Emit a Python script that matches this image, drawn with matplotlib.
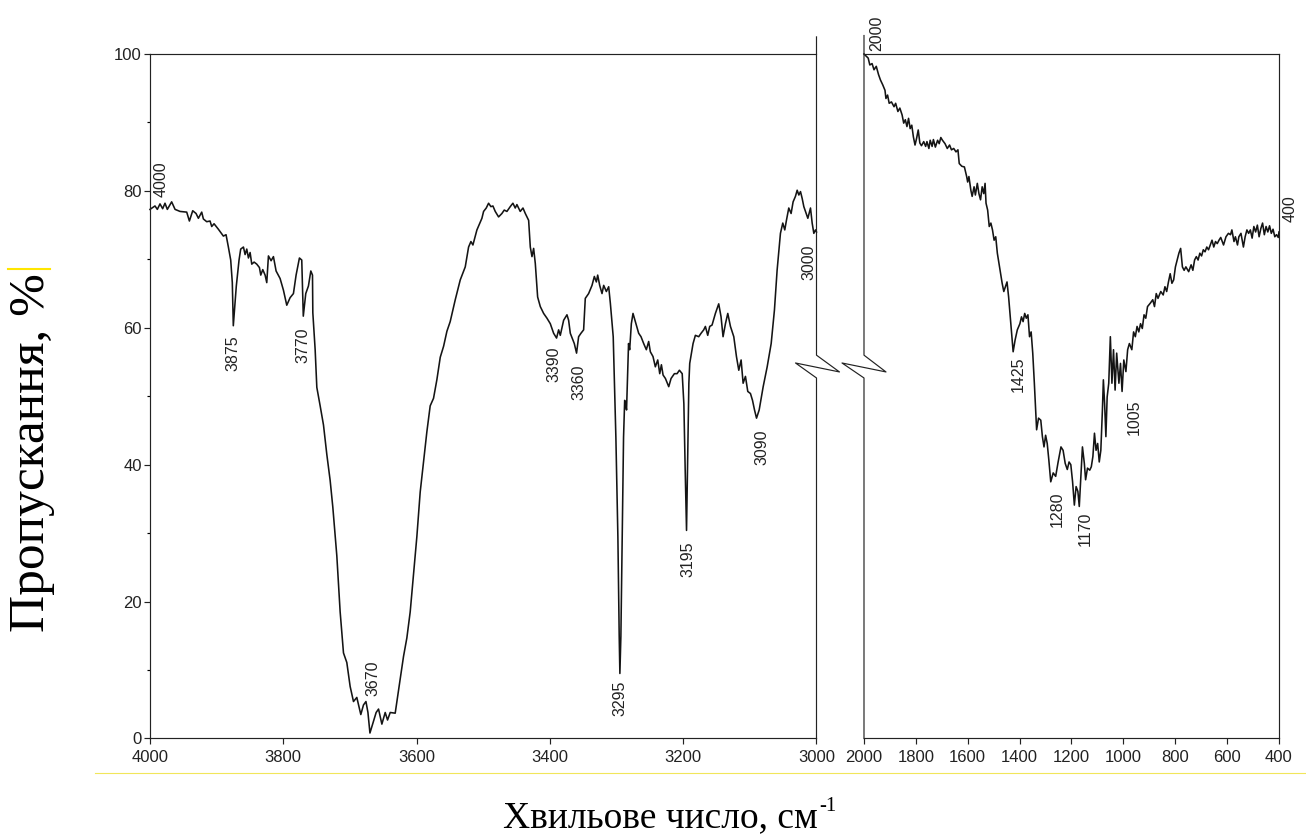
import numpy as np
import matplotlib.pyplot as plt
from matplotlib.lines import Line2D

plt.rcParams["font.family"] = ["Liberation Sans", "DejaVu Sans"]

# ІЧ-спектр: ділянка 4000–3000 см-1
high_wn = [
    4000.0, 3992.5, 3989.0, 3985.0, 3981.0, 3977.5, 3974.0, 3967.5, 3962.4, 3954.9,
    3944.9, 3940.9, 3935.9, 3930.9, 3927.4, 3922.4, 3919.9, 3914.9, 3909.9, 3907.4,
    3903.9, 3897.4, 3889.9, 3885.9, 3882.4, 3878.9, 3876.5, 3875.0, 3870.5, 3866.4,
    3863.9, 3859.8, 3857.3, 3854.8, 3852.3, 3849.8, 3847.3, 3843.8, 3839.8, 3835.8,
    3833.8, 3830.8, 3827.3, 3824.8, 3822.3, 3818.3, 3814.8, 3810.8, 3804.8, 3799.8,
    3794.8, 3789.8, 3784.8, 3780.8, 3775.8, 3772.3, 3770.0, 3766.3, 3762.3, 3758.7,
    3756.2, 3755.7, 3752.2, 3749.7, 3744.7, 3739.7, 3734.7, 3729.7, 3725.7, 3719.7,
    3714.7, 3709.7, 3704.7, 3699.7, 3694.7, 3689.7, 3683.7, 3679.7, 3676.0, 3673.0,
    3670.0, 3660.7, 3657.1, 3652.1, 3647.1, 3643.6, 3639.6, 3632.1, 3629.6, 3624.6,
    3619.6, 3614.6, 3609.6, 3604.6, 3599.6, 3594.6, 3589.6, 3584.6, 3579.6, 3574.6,
    3569.6, 3564.5, 3559.5, 3554.5, 3549.6, 3542.0, 3534.5, 3527.0, 3522.0, 3518.5,
    3515.5, 3509.5, 3502.0, 3499.5, 3495.5, 3492.0, 3488.5, 3485.5, 3482.0, 3477.0,
    3472.0, 3468.5, 3464.5, 3459.5, 3455.5, 3452.0, 3449.5, 3444.5, 3440.4, 3436.9,
    3431.9, 3429.4, 3426.9, 3424.4, 3421.9, 3418.4, 3414.4, 3409.4, 3404.4, 3399.4,
    3394.4, 3390.0, 3386.9, 3384.4, 3379.4, 3374.4, 3371.9, 3369.4, 3365.4, 3363.4,
    3360.0, 3356.9, 3353.4, 3349.4, 3346.9, 3341.9, 3336.8, 3333.3, 3330.3, 3328.3,
    3325.3, 3321.8, 3319.3, 3315.3, 3311.8, 3309.3, 3305.0, 3301.0, 3298.0, 3296.0,
    3295.0, 3293.5, 3291.5, 3289.5, 3287.8, 3286.5, 3285.0, 3283.5, 3282.0, 3280.3,
    3277.8, 3275.3, 3271.8, 3266.8, 3263.3, 3259.3, 3255.3, 3251.8, 3249.3, 3245.3,
    3241.8, 3238.2, 3235.2, 3232.7, 3230.2, 3226.7, 3221.7, 3218.2, 3213.2, 3209.2,
    3205.7, 3201.5, 3199.0, 3197.0, 3195.0, 3193.5, 3191.5, 3190.2, 3185.2, 3181.7,
    3176.7, 3173.2, 3169.2, 3166.7, 3163.2, 3160.2, 3156.7, 3151.7, 3146.7, 3143.2,
    3140.2, 3136.6, 3133.1, 3129.1, 3124.1, 3120.1, 3116.6, 3113.1, 3110.1, 3106.6,
    3103.1, 3099.1, 3096.0, 3093.0, 3090.0, 3086.0, 3080.0, 3074.0, 3068.0, 3063.1,
    3059.1, 3054.1, 3050.6, 3047.6, 3045.1, 3041.6, 3038.1, 3035.1, 3031.6, 3029.0,
    3026.5, 3024.0, 3021.5, 3019.0, 3016.5, 3013.0, 3009.0, 3006.5, 3004.0, 3001.5,
    3000.0,
]
high_t = [
    77.3, 77.8, 77.3, 78.1, 77.4, 78.2, 77.3, 78.4, 77.3, 77.0,
    76.9, 75.6, 77.1, 76.7, 76.0, 76.9, 75.9, 75.5, 75.6, 74.8,
    75.2, 74.4, 73.4, 73.6, 71.8, 69.9, 66.6, 60.3, 66.1, 69.9,
    71.5, 71.8, 70.7, 71.5, 70.2, 71.0, 69.3, 69.6, 69.3, 68.8,
    67.7, 68.5, 67.7, 66.6, 70.5, 69.8, 70.4, 68.3, 67.2, 65.5,
    63.3, 64.4, 65.0, 67.7, 70.2, 69.9, 61.7, 65.0, 66.1, 68.3,
    67.7, 62.2, 56.8, 51.3, 48.6, 45.8, 41.5, 37.7, 33.8, 26.7,
    18.5, 12.5, 11.1, 7.6, 5.4, 6.0, 3.5, 4.9, 5.4, 3.8,
    0.8, 3.8, 4.3, 2.1, 3.8, 2.7, 3.8, 3.7, 5.4, 8.7,
    12.0, 14.7, 18.5, 24.0, 29.5, 36.0, 40.4, 44.8, 48.6, 49.7,
    52.4, 55.7, 57.3, 59.5, 60.9, 64.1, 67.0, 68.9, 71.8, 72.6,
    72.1, 74.3, 76.0, 77.0, 77.5, 78.2, 77.7, 77.8, 77.0, 76.2,
    76.7, 77.2, 77.0, 77.7, 78.2, 77.5, 78.0, 77.0, 77.5, 76.7,
    75.7, 71.8, 70.4, 71.6, 69.4, 64.5, 63.1, 62.1, 61.4, 60.6,
    59.2, 58.5, 59.7, 58.9, 61.1, 61.9, 61.1, 59.2, 58.2, 57.7,
    56.3, 58.7, 59.2, 59.7, 64.3, 65.0, 66.2, 67.5, 66.7, 67.7,
    66.2, 65.0, 66.2, 65.3, 66.0, 63.6, 58.7, 44.0, 29.5, 14.9,
    9.5, 14.9, 29.5, 44.0, 49.4, 48.9, 48.0, 52.9, 57.7, 56.8,
    60.6, 62.1, 60.9, 59.2, 58.7, 57.7, 56.8, 58.0, 56.5, 55.8,
    54.3, 55.3, 53.3, 54.6, 53.1, 52.6, 51.4, 52.6, 53.3, 53.3,
    53.8, 53.3, 48.9, 39.2, 30.4, 39.2, 51.9, 54.8, 57.7, 58.9,
    58.7, 59.2, 59.7, 60.2, 58.9, 60.2, 60.4, 62.1, 63.5, 61.6,
    58.7, 60.6, 62.1, 60.2, 58.7, 55.8, 53.8, 55.3, 51.9, 52.9,
    50.7, 50.4, 49.4, 48.0, 46.8, 48.0, 51.4, 54.3, 57.7, 62.6,
    68.4, 73.8, 75.3, 74.3, 75.7, 77.5, 76.7, 78.4, 79.2, 80.1,
    79.4, 79.9, 78.9, 77.7, 77.0, 76.0, 77.5, 75.3, 73.8, 74.3,
    74.0,
]

# ІЧ-спектр: ділянка 2000–400 см-1
low_wn = [
    2000.0, 1983.8, 1977.6, 1968.9, 1961.4, 1952.7, 1944.0, 1936.5, 1927.8, 1919.1,
    1915.4, 1909.1, 1902.9, 1894.2, 1884.2, 1878.0, 1869.3, 1861.8, 1853.1, 1846.9,
    1840.7, 1834.4, 1828.2, 1822.0, 1815.8, 1809.6, 1803.3, 1797.1, 1790.9, 1784.7,
    1778.4, 1769.7, 1762.3, 1757.3, 1749.8, 1744.8, 1737.4, 1732.4, 1724.9, 1716.2,
    1710.0, 1703.8, 1697.5, 1687.6, 1678.9, 1670.1, 1662.7, 1654.0, 1645.3, 1637.8,
    1632.8, 1622.9, 1612.9, 1604.2, 1600.4, 1595.5, 1588.0, 1583.0, 1575.6, 1570.6,
    1563.1, 1556.9, 1550.7, 1544.4, 1538.2, 1533.2, 1529.5, 1523.3, 1517.1, 1510.8,
    1504.6, 1498.4, 1492.1, 1485.9, 1479.7, 1473.5, 1467.3, 1461.0, 1454.8, 1448.6,
    1442.4, 1436.1, 1429.9, 1425.0, 1417.5, 1408.9, 1398.9, 1392.8, 1386.6, 1380.4,
    1374.2, 1368.0, 1361.8, 1355.6, 1349.4, 1343.2, 1337.0, 1334.5, 1327.1, 1318.4,
    1312.2, 1306.0, 1299.8, 1293.6, 1287.4, 1280.0, 1270.5, 1261.0, 1251.5, 1240.6,
    1232.4, 1224.3, 1216.2, 1209.4, 1202.6, 1195.8, 1189.0, 1182.2, 1175.4, 1170.0,
    1162.7, 1157.8, 1150.5, 1145.6, 1138.3, 1129.7, 1123.6, 1117.5, 1111.4, 1105.3,
    1099.1, 1093.0, 1086.9, 1080.8, 1077.1, 1072.3, 1067.4, 1062.5, 1056.4, 1050.2,
    1044.1, 1038.0, 1031.9, 1025.8, 1017.2, 1011.1, 1005.0, 998.3, 990.2, 983.5,
    976.8, 967.4, 960.6, 953.9, 947.2, 940.5, 933.8, 927.0, 920.3, 913.6,
    906.9, 896.1, 886.7, 880.0, 873.3, 866.5, 855.8, 846.4, 839.7, 833.0,
    826.2, 819.5, 812.8, 806.1, 799.3, 792.6, 785.9, 779.2, 772.4, 765.7,
    759.0, 748.2, 738.8, 732.1, 725.4, 718.7, 711.9, 705.2, 698.5, 691.8,
    685.1, 678.4, 671.6, 664.9, 658.2, 651.5, 644.7, 638.0, 631.3, 624.6,
    613.8, 604.4, 595.0, 586.9, 581.6, 573.5, 568.1, 560.0, 554.7, 546.6,
    537.2, 530.5, 523.7, 517.0, 510.3, 503.6, 496.9, 490.1, 483.4, 476.7,
    470.0, 463.3, 456.5, 449.8, 443.1, 436.4, 429.6, 422.9, 416.2, 409.5,
    402.8, 400.0,
]
low_t = [
    100.0, 99.4, 98.4, 98.6, 97.7, 98.2, 97.0, 96.2, 95.5, 94.7,
    93.5, 94.0, 92.8, 93.0, 92.3, 92.8, 91.6, 92.1, 91.1, 89.9,
    90.4, 89.4, 90.6, 89.1, 89.6, 87.9, 86.7, 87.7, 88.9, 87.0,
    86.6, 87.2, 86.5, 87.2, 86.2, 87.4, 86.5, 87.5, 86.4, 87.4,
    86.9, 87.8, 87.4, 86.9, 86.2, 86.7, 86.0, 86.2, 85.7, 86.0,
    84.0, 83.6, 83.5, 82.1, 81.3, 82.1, 80.1, 79.2, 80.6, 79.4,
    81.1, 79.6, 78.7, 80.6, 79.6, 81.1, 78.2, 77.2, 74.8, 75.3,
    74.3, 72.8, 73.3, 70.9, 69.4, 68.0, 66.5, 65.3, 66.0, 66.7,
    64.5, 61.6, 58.7, 56.5, 58.2, 59.7, 60.6, 61.6, 60.9, 62.1,
    61.4, 61.9, 58.7, 59.4, 56.3, 51.9, 47.0, 45.1, 46.8, 46.5,
    44.1, 42.6, 44.3, 43.1, 40.7, 37.5, 38.8, 38.3, 40.4, 42.6,
    42.1, 40.2, 39.3, 40.4, 40.0, 37.5, 34.1, 36.8, 36.1, 33.9,
    39.2, 42.6, 40.2, 37.8, 39.5, 39.2, 39.7, 41.2, 44.6, 42.1,
    43.1, 40.4, 42.1, 48.0, 52.4, 48.9, 44.1, 49.9, 51.9, 58.7,
    51.9, 56.8, 50.9, 56.3, 51.9, 54.8, 50.7, 55.3, 53.6, 56.8,
    57.7, 56.8, 59.4, 58.7, 60.2, 59.4, 60.6, 59.9, 61.9, 61.4,
    63.1, 63.6, 64.1, 63.1, 65.0, 64.3, 65.3, 64.8, 66.0, 65.3,
    66.7, 67.9, 66.5, 67.0, 68.9, 69.9, 70.9, 71.6, 68.9, 68.4,
    68.9, 68.2, 69.2, 68.4, 69.9, 70.4, 69.9, 70.9, 70.5, 71.4,
    71.1, 71.8, 71.4, 72.1, 72.8, 71.8, 72.6, 72.3, 72.8, 73.2,
    72.1, 73.3, 73.8, 73.6, 74.3, 72.6, 73.3, 72.1, 73.3, 73.8,
    71.8, 73.3, 74.3, 73.8, 74.3, 73.1, 74.8, 74.0, 75.0, 73.3,
    74.5, 75.3, 73.6, 74.8, 74.0, 74.9, 73.8, 74.4, 73.3, 73.6,
    73.2, 74.0,
]

# Підписані смуги поглинання
high_peaks = [4000, 3875, 3770, 3670, 3390, 3360, 3295, 3195, 3090, 3000]
low_peaks = [2000, 1425, 1280, 1170, 1005, 400]

high_ticks = [4000, 3800, 3600, 3400, 3200, 3000]
low_ticks = [2000, 1800, 1600, 1400, 1200, 1000, 800, 600, 400]
t_ticks = [0, 20, 40, 60, 80, 100]

# Зсув підписів відносно точки на кривій (в пунктах) та вирівнювання
label_pos = {
    4000: (8, 9, "bottom"),
    3875: (0, -7, "top"),
    3770: (0, -8, "top"),
    3670: (2, 27, "bottom"),
    3390: (-2, -6, "top"),
    3360: (1.5, -8, "top"),
    3295: (0, -5, "top"),
    3195: (1, -8, "top"),
    3090: (4, -8, "top"),
    3000: (-5.5, -9, "top"),
    2000: (9.5, 2, "bottom"),
    1425: (3.5, -3.5, "top"),
    1280: (5, -7, "top"),
    1170: (4, -3.5, "top"),
    1005: (8.5, -6, "top"),
    400: (8, 7, "bottom"),
}

fig = plt.figure(figsize=(13.06, 8.34), dpi=100)
ax1 = fig.add_axes([0.11485, 0.11451, 0.51034, 0.82074])
ax2 = fig.add_axes([0.66156, 0.11451, 0.31776, 0.82074])

line_kw = dict(color="#141414", lw=1.15, clip_on=False)
ax1.plot(high_wn, high_t, **line_kw)
ax2.plot(low_wn, low_t, **line_kw)

ax1.set_xlim(4000, 3000)
ax2.set_xlim(2000, 400)
for ax in (ax1, ax2):
    ax.set_ylim(0, 100)
    for s in ax.spines.values():
        s.set_linewidth(0.85)
        s.set_color("#222222")
    ax.tick_params(axis="x", direction="out", length=4, width=0.85,
                   labelsize=12, pad=4, colors="#222222")

ax1.set_xticks(high_ticks)
ax1.set_yticks(t_ticks)
ax1.set_yticks(range(10, 100, 20), minor=True)
ax1.tick_params(axis="y", which="major", direction="out", length=4, width=0.85,
                labelsize=12, pad=2, colors="#222222")
ax1.tick_params(axis="y", which="minor", direction="out", length=2.5, width=0.85)
ax1.spines["right"].set_visible(False)

ax2.set_xticks(low_ticks)
ax2.set_yticks([])
ax2.spines["left"].set_visible(False)

# Розрив осі: вертикальні лінії зі зламом
brk_kw = dict(color="#222222", lw=0.85, clip_on=False)
ax1.plot([1.0, 1.0, 1.0345, 0.9685, 1.0, 1.0],
         [1.025, 0.560, 0.5355, 0.5486, 0.5267, 0.0],
         transform=ax1.transAxes, **brk_kw)
ax2.plot([0.0, 0.0, 0.053, -0.053, 0.0, 0.0],
         [1.027, 0.560, 0.5355, 0.5486, 0.5267, 0.0],
         transform=ax2.transAxes, **brk_kw)

# Підписи смуг
for ax, peaks, wn, t in ((ax1, high_peaks, high_wn, high_t),
                         (ax2, low_peaks, low_wn, low_t)):
    for p in peaks:
        y = np.interp(p, wn[::-1], t[::-1])
        dx, dy, va = label_pos[p]
        ax.annotate(str(p), xy=(p, y), xytext=(dx, dy), textcoords="offset points",
                    rotation=90, ha="center", va=va, fontsize=11.5,
                    color="#222222", annotation_clip=False)

# Підписи осей
serif = ["Liberation Serif", "DejaVu Serif"]
fig.text(44 / 1306, 1 - 632 / 834, "Пропускання, %", family=serif, fontsize=37,
         rotation=90, rotation_mode="anchor", ha="left", va="baseline")
xl = fig.text(503 / 1306, 1 - 827 / 834, "Хвильове число, см", family=serif,
              fontsize=27, ha="left", va="baseline")
fig.canvas.draw()
bb = xl.get_window_extent().transformed(fig.transFigure.inverted())
fig.text(bb.x1 + 2 / 1306, 1 - 811 / 834, "-1", family=serif, fontsize=15,
         ha="left", va="baseline")

# Жовті позначки
fig.add_artist(Line2D([95 / 1306, 1.0], [1 - 773 / 834] * 2,
                      transform=fig.transFigure, color="#f1e65a", lw=0.8))
fig.add_artist(Line2D([8 / 1306, 50 / 1306], [1 - 269 / 834] * 2,
                      transform=fig.transFigure, color="#ffe600", lw=1.5))

fig.savefig("out.png", dpi=100)
